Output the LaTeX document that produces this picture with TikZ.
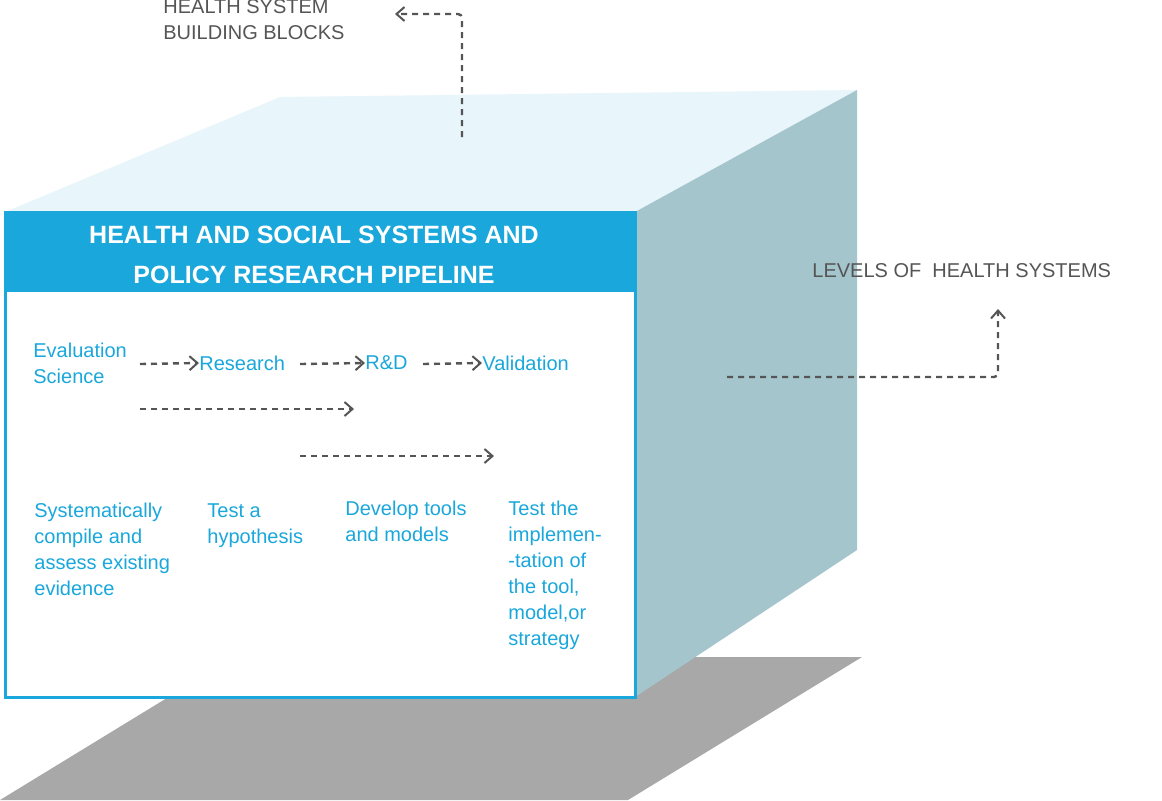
\documentclass[tikz,border=0pt]{standalone}
\usepackage{fontspec}
\setmainfont{Liberation Sans}
\usetikzlibrary{arrows.meta}
\definecolor{pblue}{HTML}{1AA7DB}
\definecolor{topc}{HTML}{E8F5FB}
\definecolor{sidec}{HTML}{A4C5CC}
\definecolor{shad}{HTML}{A8A8A8}
\definecolor{dgray}{HTML}{555555}
\tikzset{
 da/.style={draw=dgray,line width=1.2pt,dash pattern=on 3pt off 2.5pt,-{Straight Barb[length=4pt,width=7pt,line width=1pt]}},
 bt/.style={text=pblue,font=\fontsize{10}{13}\selectfont,anchor=north west,inner sep=0pt,align=left},
 gt/.style={text=dgray,font=\fontsize{10}{13}\selectfont,anchor=north west,inner sep=0pt,align=left},
}
\begin{document}
\begin{tikzpicture}[x=0.5pt,y=-0.5pt]
\useasboundingbox (0,0) rectangle (1162,800);
\fill[shad] (0,800)--(628,800)--(862,657)--(234,657)--cycle;
\fill[topc] (5,212)--(280,97)--(857,90)--(635,212)--cycle;
\fill[sidec] (635,212)--(857,90)--(857,550)--(635,697)--cycle;
\draw[pblue,fill=white,line width=1.5pt] (5,212) rectangle (635,697);
\fill[pblue] (5,212) rectangle (635,292);
\node[text=white,font=\bfseries\fontsize{12.5}{20}\selectfont,align=center] (title) at (314,255) {HEALTH AND SOCIAL SYSTEMS AND\\POLICY RESEARCH PIPELINE};
\node[bt] (ev) at (33,343) {Evaluation\\Science};
\node[bt,anchor=west] (re) at (199,363) {Research};
\node[bt,anchor=west] (rd) at (365,363) {R\&D};
\node[bt,anchor=west] (va) at (482,363) {Validation};
\coordinate (a1s) at (140,364); \coordinate (a2s) at (300,364); \coordinate (a3s) at (423,364);
\draw[da] (a1s) -- (re.west);
\draw[da] (a2s) -- (rd.west);
\draw[da] (a3s) -- (va.west);
\coordinate (l1s) at (140,409); \coordinate (l1e) at (354,409);
\coordinate (l2s) at (300,456); \coordinate (l2e) at (494,456);
\draw[da] (l1s) -- (l1e);
\draw[da] (l2s) -- (l2e);
\node[bt] (d1) at (34,503) {Systematically\\compile and\\assess existing\\evidence};
\node[bt] (d2) at (207,503) {Test a\\hypothesis};
\node[bt] (d3) at (345,501) {Develop tools\\and models};
\node[bt] (d4) at (508,501) {Test the\\implemen-\\-tation of\\the tool,\\model,or\\strategy};
\node[gt] (hs) at (163,-1) {HEALTH SYSTEM\\BUILDING BLOCKS};
\coordinate (hsb) at (462,137);
\coordinate (hse) at (395,14);
\draw[da,rounded corners=2pt] (hsb) |- (hse);
\node[gt,anchor=west] (lv) at (812,271) {LEVELS OF\ \ HEALTH SYSTEMS};
\coordinate (lvs) at (727,377); \coordinate (lve) at (998,309);
\draw[da,rounded corners=2pt] (lvs) -| (lve);
\end{tikzpicture}
\end{document}
